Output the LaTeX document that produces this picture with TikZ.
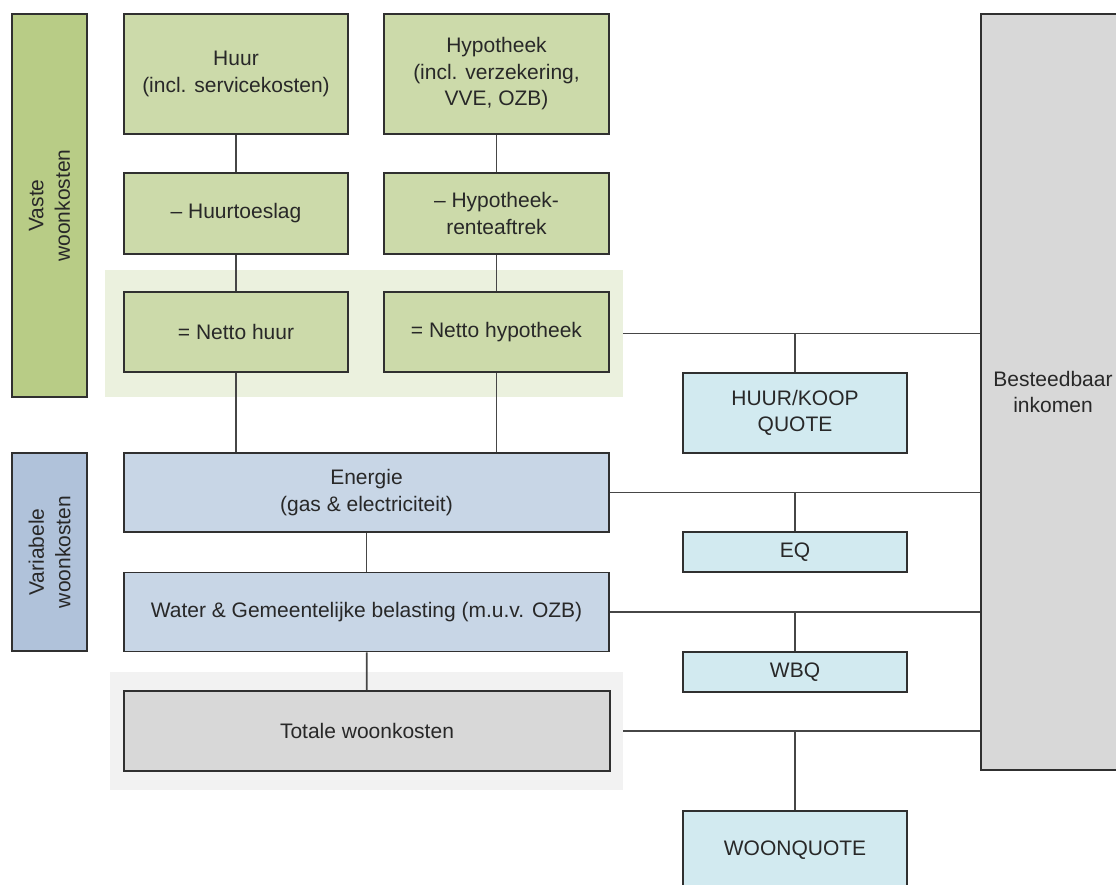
\documentclass[tikz,border=0pt]{standalone}
\usepackage{fontspec}
\setmainfont{Liberation Sans}
\definecolor{groen}{RGB}{204,218,170}
\definecolor{groendonker}{RGB}{184,204,134}
\definecolor{groenvlak}{RGB}{235,241,222}
\definecolor{blauw}{RGB}{200,214,230}
\definecolor{blauwdonker}{RGB}{176,194,218}
\definecolor{cyaan}{RGB}{210,234,240}
\definecolor{grijs}{RGB}{216,216,216}
\definecolor{grijsvlak}{RGB}{242,242,242}
\definecolor{rand}{RGB}{48,48,48}
\definecolor{lijngrijs}{RGB}{70,70,70}
\definecolor{tekst}{RGB}{40,40,40}
\tikzstyle{blok} = [draw=rand, line width=1.9pt, text=tekst, align=center, inner sep=0pt]
\tikzstyle{vast} = [blok, fill=groen, minimum width=224pt, minimum height=80pt]
\tikzstyle{variabel} = [blok, fill=blauw, minimum width=485pt, minimum height=79pt]
\tikzstyle{quote} = [blok, fill=cyaan, minimum width=224pt]
\tikzstyle{balk} = [blok, rotate=90, minimum height=75pt]
\tikzstyle{vlak} = [inner sep=0pt]
\tikzstyle{lijn} = [draw=lijngrijs, line width=1.8pt]

\begin{document}
\begin{tikzpicture}[x=1pt, y=-1pt, font=\fontsize{21}{26.5}\selectfont]
\useasboundingbox (0,0) rectangle (1116,885);
\clip (0,0) rectangle (1116,885);
%achtergrondvlakken
\node[vlak, fill=groenvlak, minimum width=518pt, minimum height=127pt] (groenvlak) at (364,333.5) {};
\node[vlak, fill=grijsvlak, minimum width=513pt, minimum height=118pt] (grijsvlak) at (366.5,731) {};
%begin zijbalken
\node[balk, fill=groendonker, minimum width=383pt] (vaste) at (49.5,205.5) {Vaste\\woonkosten};
\node[balk, fill=blauwdonker, minimum width=198pt] (variabele) at (49.5,552) {Variabele\\woonkosten};
%end zijbalken
%begin vaste woonkosten
\node[vast, minimum height=120pt] (huur) at (236,74) {Huur\\(incl. servicekosten)};
\node[vast, minimum height=81pt] (toeslag) at (236,213.5) {-- Huurtoeslag};
\node[vast] (nettohuur) at (236,332) {= Netto huur};
\node[vast, minimum width=225pt, minimum height=120pt] (hypotheek) at (496.5,74) {Hypotheek\\(incl. verzekering,\\VVE, OZB)};
\node[vast, minimum width=225pt, minimum height=81pt] (aftrek) at (496.5,213.5) {-- Hypotheek-\\renteaftrek};
\node[vast, minimum width=225pt] (nettohyp) at (496.5,332) {= Netto hypotheek};
%end vaste woonkosten
%begin variabele woonkosten
\node[variabel] (energie) at (366.5,492.5) {Energie\\(gas \& electriciteit)};
\node[variabel] (water) at (366.5,612) {Water \& Gemeentelijke belasting (m.u.v. OZB)};
\node[blok, fill=grijs, minimum width=486pt, minimum height=80pt] (totaal) at (367,731) {Totale woonkosten};
%end variabele woonkosten
%begin quotes
\node[quote, minimum height=80pt] (huurkoop) at (795,413) {HUUR/KOOP\\QUOTE};
\node[quote, minimum height=40pt] (eq) at (795,552) {EQ};
\node[quote, minimum height=40pt] (wbq) at (795,672) {WBQ};
\node[quote, minimum height=78pt] (woonquote) at (795,850) {WOONQUOTE};
%end quotes
\node[blok, fill=grijs, minimum width=144pt, minimum height=756pt] (besteed) at (1053,392) {Besteedbaar\\inkomen};
%begin lijnen
\draw[lijn] (huur) -- (toeslag);
\draw[lijn] (toeslag) -- (nettohuur);
\draw[lijn] (hypotheek) -- (aftrek);
\draw[lijn] (aftrek) -- (nettohyp);
\draw[lijn] (nettohuur.south) -- (nettohuur.south |- energie.north);
\draw[lijn] (nettohyp.south) -- (nettohyp.south |- energie.north);
\draw[lijn] (energie) -- (water);
\draw[lijn] (water) -- (totaal);
\draw[lijn] (groenvlak.east) -- (groenvlak.east -| besteed.west);
\draw[lijn] (huurkoop.north |- groenvlak.east) -- (huurkoop.north);
\draw[lijn] (energie.east) -- (energie.east -| besteed.west);
\draw[lijn] (eq.north |- energie.east) -- (eq.north);
\draw[lijn] (water.east) -- (water.east -| besteed.west);
\draw[lijn] (wbq.north |- water.east) -- (wbq.north);
\draw[lijn] (grijsvlak.east) -- (grijsvlak.east -| besteed.west);
\draw[lijn] (woonquote.north |- grijsvlak.east) -- (woonquote.north);
%end lijnen
\end{tikzpicture}
\end{document}
